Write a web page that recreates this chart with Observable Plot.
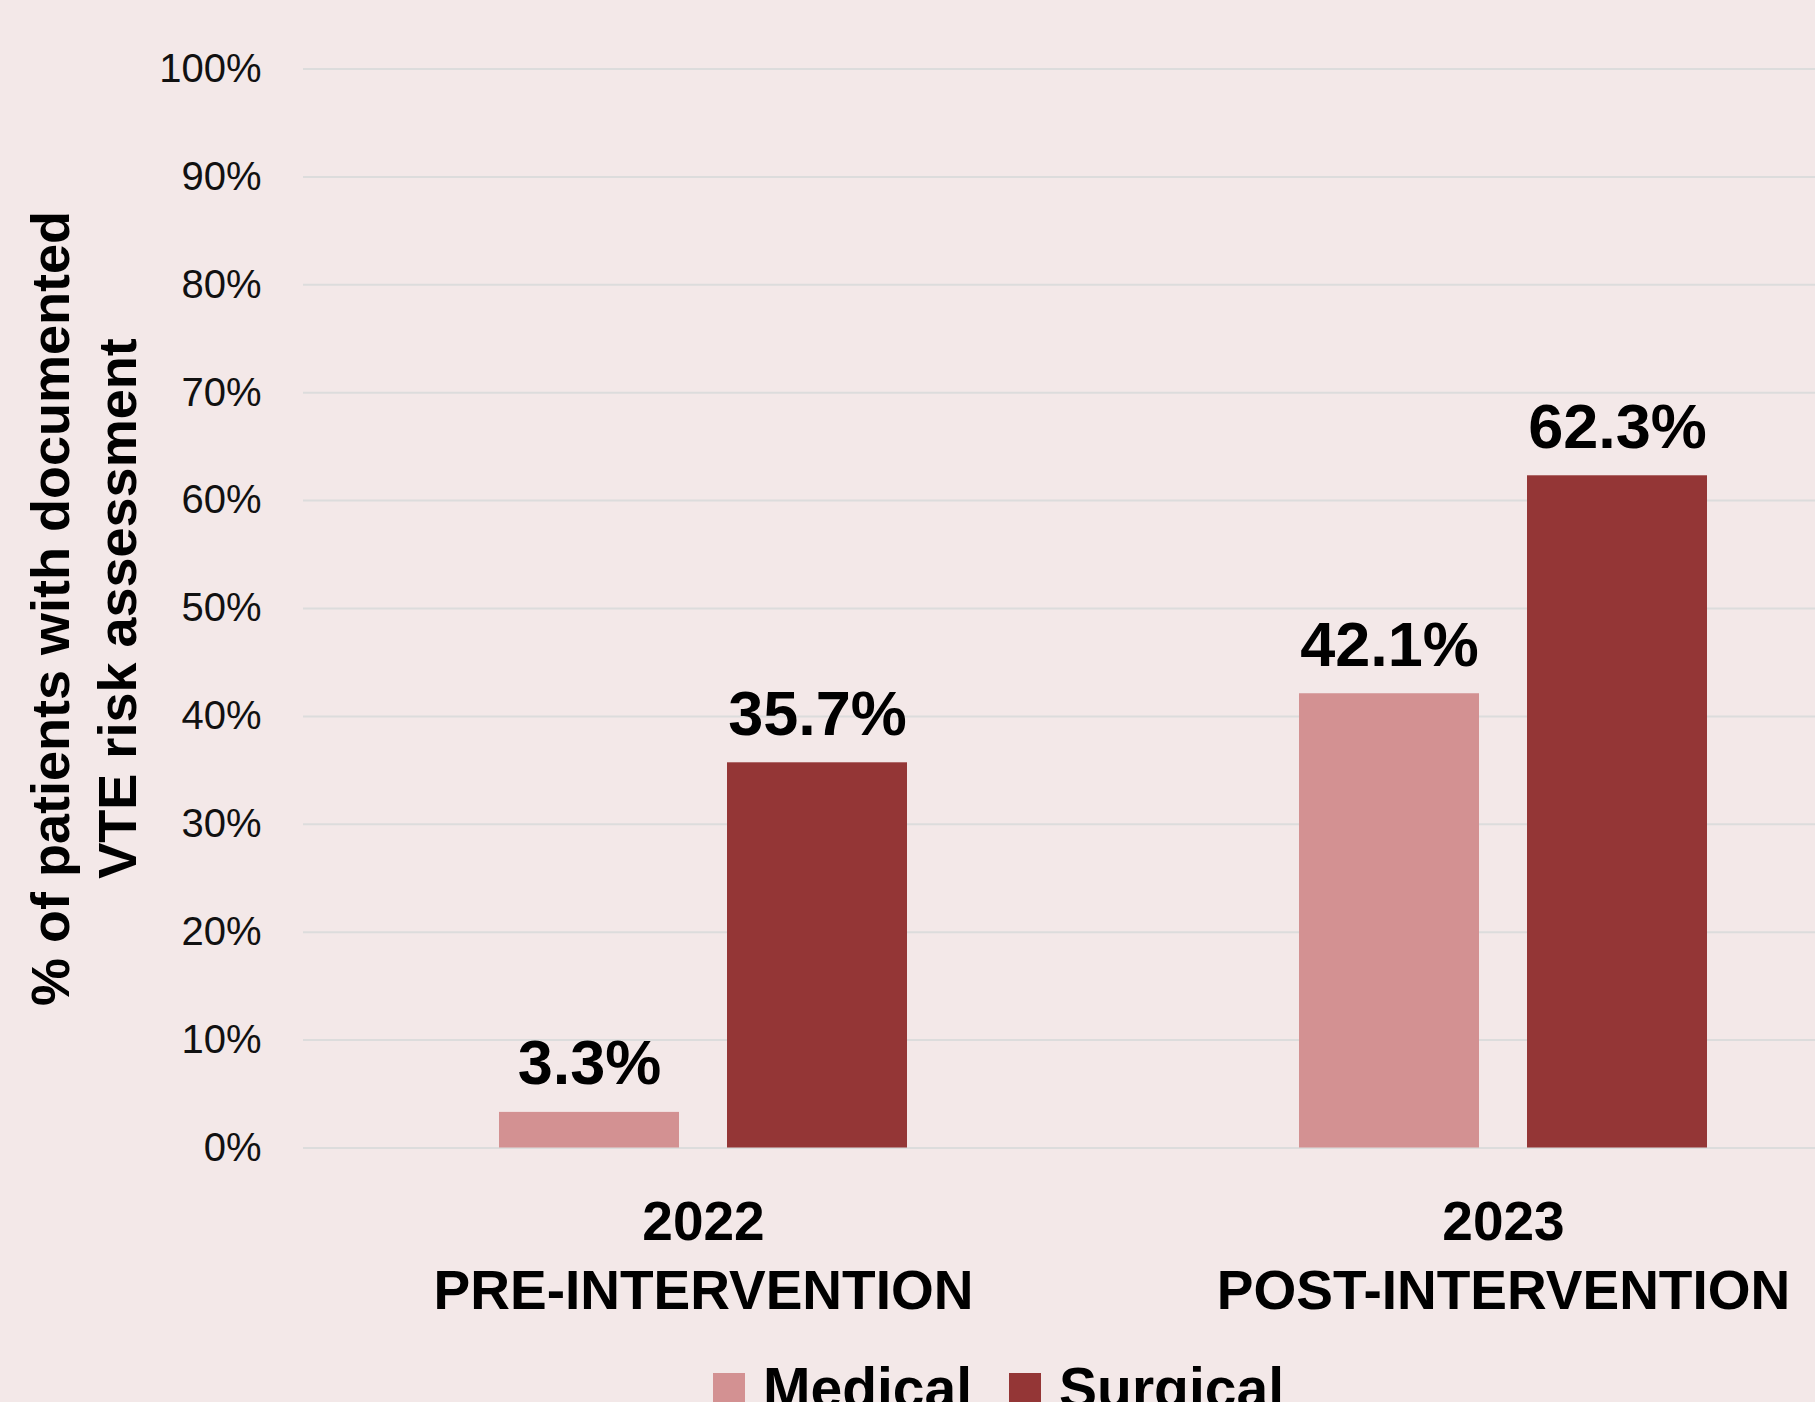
<!DOCTYPE html>
<html>
<head>
<meta charset="utf-8">
<script src="https://cdn.jsdelivr.net/npm/d3@7"></script>
<script src="https://cdn.jsdelivr.net/npm/@observablehq/plot@0.6"></script>
<style>
  html, body { margin: 0; padding: 0; background: #f3e8e8; overflow: hidden; }
  #wrap { position: relative; width: 1815px; height: 1402px; overflow: hidden; background: #f3e8e8;
          font-family: "Liberation Sans", Arial, Helvetica, sans-serif; color: #000; }
  #legend { display: flex; align-items: flex-start; padding-left: 713px; margin-top: 20px;
            font-size: 57px; font-weight: bold; line-height: 57px; }
  #legend .sw { width: 32px; height: 32px; margin-top: 13px; margin-right: 18px; }
  #legend .item { display: flex; align-items: flex-start; margin-right: 37px; }
</style>
</head>
<body>
<div id="wrap"></div>
<script>
// ---- data ----
const years = ["2022", "2023"];
const phases = ["PRE-INTERVENTION", "POST-INTERVENTION"];
const series = ["Medical", "Surgical"];
const medicalValues = [3.3, 42.1];
const surgicalValues = [35.7, 62.3];
const yTicks = [0, 10, 20, 30, 40, 50, 60, 70, 80, 90, 100];
const seriesColors = ["#d39192", "#943636"];
const yTitleLines = ["% of patients with documented", "VTE risk assessment"];

// table built from the arrays
const data = [];
years.forEach((yr, i) => {
  data.push({year: yr, series: series[0], value: medicalValues[i]});
  data.push({year: yr, series: series[1], value: surgicalValues[i]});
});

const font = "Liberation Sans, Arial, Helvetica, sans-serif";

const chart = Plot.plot({
  width: 1815,
  height: 1340,
  marginTop: 68.5,
  marginBottom: 192.5,
  marginLeft: 303,
  marginRight: 0,
  style: {background: "#f3e8e8", fontFamily: font, color: "#000", overflow: "hidden"},
  fx: {domain: years, range: [303, 1903], padding: 0},
  x: {domain: series, paddingInner: 0.2105, paddingOuter: 0.8596, axis: null},
  y: {domain: [0, 100]},
  color: {domain: series, range: seriesColors},
  marks: [
    Plot.gridY(yTicks, {stroke: "#dcdcdc", strokeOpacity: 1, strokeWidth: 2}),
    Plot.barY(data, {fx: "year", x: "series", y: "value", fill: "series"}),
    Plot.text(data, {
      fx: "year", x: "series", y: "value",
      text: d => d.value.toFixed(1) + "%",
      lineAnchor: "bottom", dy: -28,
      fontSize: 63, fontWeight: "bold", fill: "#000"
    }),
    Plot.axisY(yTicks, {
      anchor: "left", tickSize: 0, tickPadding: 42,
      tickFormat: d => d + "%", fontSize: 40, fill: "#111",
      label: null
    }),
    Plot.axisY([], {
      anchor: "left", tickSize: 0,
      label: yTitleLines[0], labelAnchor: "center", labelOffset: 273, labelArrow: "none",
      fontSize: 54, fontWeight: "bold", fill: "#000"
    }),
    Plot.axisY([], {
      anchor: "left", tickSize: 0,
      label: yTitleLines[1], labelAnchor: "center", labelOffset: 206, labelArrow: "none",
      fontSize: 54, fontWeight: "bold", fill: "#000"
    }),
    Plot.axisFx({
      anchor: "bottom", tickSize: 0, tickPadding: 42,
      tickFormat: d => d + "\n" + phases[years.indexOf(d)],
      fontSize: 55, fontWeight: "bold", lineHeight: 1.27, fill: "#000",
      label: null
    })
  ]
});

const wrap = document.getElementById("wrap");
wrap.appendChild(chart);

// legend below the chart
const legend = document.createElement("div");
legend.id = "legend";
series.forEach((s, i) => {
  const item = document.createElement("div");
  item.className = "item";
  const sw = document.createElement("div");
  sw.className = "sw";
  sw.style.background = seriesColors[i];
  const label = document.createElement("span");
  label.textContent = s;
  item.appendChild(sw);
  item.appendChild(label);
  legend.appendChild(item);
});
wrap.appendChild(legend);
</script>
</body>
</html>
